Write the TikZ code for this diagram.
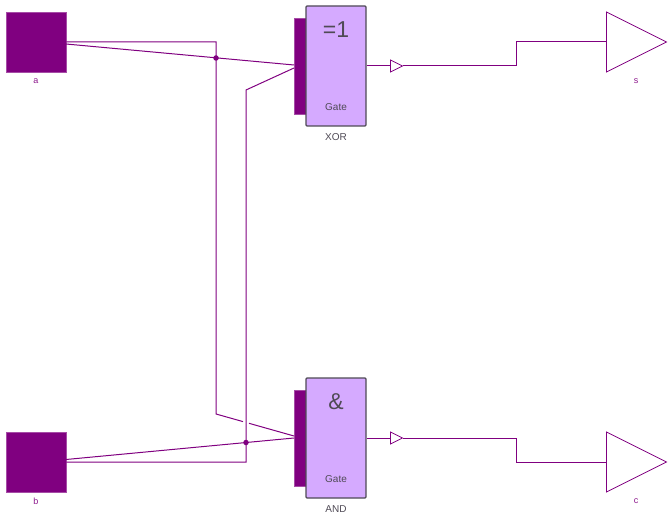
\documentclass[tikz,border=0pt]{standalone}
\usepackage{fontspec}
\setmainfont{Liberation Sans}
\usetikzlibrary{shapes.geometric}
\definecolor{wirepurple}{HTML}{800080}
\definecolor{gatefill}{HTML}{D5AAFF}
\definecolor{gateline}{HTML}{4F4A55}
\begin{document}
\begin{tikzpicture}[
      x=1pt, y=-1pt,
      source/.style={draw=wirepurple!70, fill=wirepurple, minimum width=60pt, minimum height=60pt,
                     inner sep=0pt, line width=0.8pt},
      gatebox/.style={draw=gateline, fill=gatefill, minimum width=60pt, minimum height=120pt,
                      inner sep=0pt, line width=1.3pt, rounded corners=1pt},
      portbar/.style={draw=wirepurple!70, fill=wirepurple, minimum width=12pt, minimum height=96pt,
                      inner sep=0pt, line width=0.6pt},
      tri/.style={shape=isosceles triangle, isosceles triangle stretches=true, draw=wirepurple,
                  fill=white, inner sep=0pt, anchor=lower side, line width=0.8pt},
      outtri/.style={tri, minimum width=60pt, minimum height=60pt},
      pintri/.style={tri, minimum width=12pt, minimum height=12pt},
      dotnode/.style={circle, fill=wirepurple, minimum size=5.5pt, inner sep=0pt},
      wire/.style={draw=wirepurple, line width=1pt},
      thinlabel/.style={font=\fontsize{9}{9}\selectfont, text=wirepurple!90},
      graylabel/.style={font=\fontsize{10}{10}\selectfont, text=gateline},
      symbol/.style={font=\fontsize{23}{23}\selectfont, text=gateline}
    ]
      \useasboundingbox (0,0) rectangle (671,518);
      % blocks
      \node[source] (a) at (36,42) {};
      \node[source] (b) at (36,462) {};
      \node[portbar] (xorPort) at (300,66) {};
      \node[portbar] (andPort) at (300,438) {};
      \node[gatebox] (xorGate) at (336,66) {};
      \node[gatebox] (andGate) at (336,438) {};
      \node[pintri] (xorPin) at (390,66) {};
      \node[pintri] (andPin) at (390,438) {};
      \node[outtri] (s) at (606,42) {};
      \node[outtri] (c) at (606,462) {};
      % texts
      \node[thinlabel] (aLabel) at (36,81) {a};
      \node[thinlabel] (bLabel) at (36,501) {b};
      \node[thinlabel] (sLabel) at (636,81) {s};
      \node[thinlabel] (cLabel) at (636,501) {c};
      \node[symbol] (xorSym) at (336,30) {=1};
      \node[symbol] (andSym) at (336,402) {\&};
      \node[graylabel] (xorText) at (336,107.5) {Gate};
      \node[graylabel] (andText) at (336,479.5) {Gate};
      \node[graylabel] (xorName) at (336,137.5) {XOR};
      \node[graylabel] (andName) at (336,509.5) {AND};
      % wire ends
      \coordinate (aTop) at (66,44);
      \coordinate (bTop) at (66,459.5);
      \coordinate (xorIn1) at (294,65);
      \coordinate (xorIn2) at (294,68);
      \coordinate (andIn1) at (294,436);
      \coordinate (andIn2) at (294,438);
      \coordinate (gapL) at (243,421.6);
      \coordinate (gapR) at (249,423.3);
      % wires
      \draw[wire] (a.east) -- (216,42) -- (216,414) -- (gapL);
      \draw[wire] (gapR) -- (andIn1);
      \draw[wire] (b.east) -- (246,462) -- (246,90) -- (xorIn2);
      \draw[wire] (aTop) -- (xorIn1);
      \draw[wire] (bTop) -- (andIn2);
      \draw[wire] (xorGate.east) -- (xorPin.lower side);
      \draw[wire] (andGate.east) -- (andPin.lower side);
      \draw[wire] (xorPin.apex) -- (516,66) -- (516,42) -- (s.lower side);
      \draw[wire] (andPin.apex) -- (516,438) -- (516,462) -- (c.lower side);
      \node[dotnode] (aDot) at (216,58) {};
      \node[dotnode] (bDot) at (246,442.5) {};
    \end{tikzpicture}
\end{document}
